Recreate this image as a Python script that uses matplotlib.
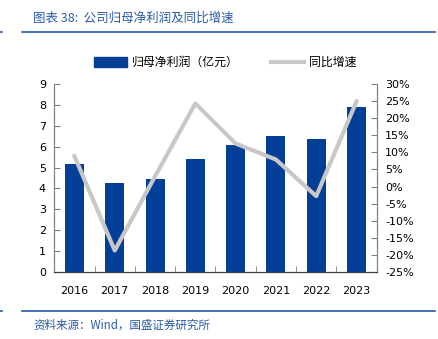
import matplotlib.pyplot as plt
import matplotlib.lines as mlines
import numpy as np

plt.rcParams['font.family'] = ['Noto Sans CJK SC', 'DejaVu Sans']

# data
years = ["2016", "2017", "2018", "2019", "2020", "2021", "2022", "2023"]
profit = [5.16, 4.25, 4.47, 5.42, 6.09, 6.53, 6.36, 7.91]     # 亿元
growth = [8.9, -18.7, 3.0, 24.3, 12.6, 7.9, -2.8, 24.9]       # %

bar_color = "#033f96"
line_color = "#c8c8c8"
title_color = "#2a5aa8"

fig = plt.figure(figsize=(4.39, 3.39), dpi=100)
ax = fig.add_axes([0.1237, 0.1976, 0.7343, 0.5546])
ax2 = ax.twinx()

x = np.arange(len(years))
ax.bar(x, profit, width=0.47, color=bar_color, zorder=2)
ax2.plot(x, growth, color=line_color, linewidth=3, zorder=3)

ax.set_xlim(-0.5, len(years) - 0.5)
ax.set_ylim(0, 9)
ax.set_yticks(range(0, 10))
ax2.set_ylim(-25, 30)
ax2.set_yticks(range(-25, 31, 5))
ax2.set_yticklabels([f"{v}%" for v in range(-25, 31, 5)])

ax.set_xticks(x)
ax.set_xticklabels(years)
ax.set_xticks(np.arange(-0.5, len(years)), minor=True)
ax.tick_params(axis="x", which="major", length=0, pad=10, labelsize=8)
ax.tick_params(axis="x", which="minor", length=4, direction="in", color="#808080")
ax.tick_params(axis="y", direction="in", length=4, color="#808080", labelsize=8, pad=6)
ax2.tick_params(axis="y", direction="in", length=4, color="#808080", labelsize=8, pad=6)
for lbl in ax.get_xticklabels() + ax.get_yticklabels() + ax2.get_yticklabels():
    lbl.set_family("DejaVu Sans")

for a in (ax, ax2):
    a.spines["top"].set_visible(False)
    a.spines["left"].set_color("#808080")
    a.spines["right"].set_color("#808080")
    a.spines["bottom"].set_color("#404040")
ax2.set_zorder(ax.get_zorder() + 1)
ax2.patch.set_visible(False)

# legend
bar_handle = plt.Rectangle((0, 0), 1, 1, color=bar_color)
line_handle = mlines.Line2D([], [], color=line_color, linewidth=3)
fig.legend([bar_handle, line_handle], ["归母净利润（亿元）", "同比增速"],
           loc="center", bbox_to_anchor=(0.513, 0.815), ncol=2, frameon=False,
           fontsize=8.6, handlelength=2.8, handleheight=0.9, columnspacing=2.7,
           handletextpad=0.4)

# title, rules and source
fig.text(0.075, 0.947, "图表 38:  公司归母净利润及同比增速", color=title_color,
         fontsize=9, va="center", ha="left")
fig.add_artist(mlines.Line2D([0.05, 0.99], [0.905, 0.905], color=title_color, linewidth=1.2))
fig.add_artist(mlines.Line2D([0.0, 0.005], [0.905, 0.905], color=title_color, linewidth=1.2))
fig.add_artist(mlines.Line2D([0.05, 0.99], [0.082, 0.082], color=title_color, linewidth=1.2))
fig.add_artist(mlines.Line2D([0.0, 0.005], [0.082, 0.082], color=title_color, linewidth=1.2))
fig.text(0.075, 0.041, "资料来源：Wind，国盛证券研究所", color=title_color,
         fontsize=8.3, va="center", ha="left")

plt.savefig("out.png", dpi=100)
plt.close()
